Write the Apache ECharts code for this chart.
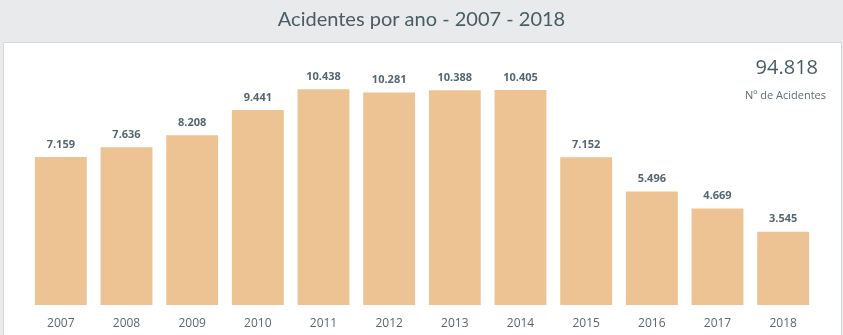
<!DOCTYPE html>
<html>
<head>
<meta charset="utf-8">
<script src="https://cdn.jsdelivr.net/npm/echarts@6/dist/echarts.min.js"></script>
<style>html,body{margin:0;padding:0;background:#e8eaeb;}#c{width:843px;height:335px;}</style>
</head>
<body>
<div id="c"></div>
<script>
const categories = ['2007','2008','2009','2010','2011','2012','2013','2014','2015','2016','2017','2018'];
const accidents = [7159, 7636, 8208, 9441, 10438, 10281, 10388, 10405, 7152, 5496, 4669, 3545];
const titleText = 'Acidentes por ano - 2007 - 2018';
const totalLabel = 'Nº de Acidentes';

function fmt(v){ return String(v).replace(/\B(?=(\d{3})+(?!\d))/g, '.'); }
const total = accidents.reduce((a,b)=>a+b,0);

const chart = echarts.init(document.getElementById('c'));
chart.setOption({
  backgroundColor: '#e8eaeb',
  animation: false,
  graphic: [
    { type: 'rect', left: 3, top: 42, z: -10, shape: { width: 838, height: 300 },
      style: { fill: '#ffffff', stroke: '#d6d8da', lineWidth: 1 } },
    { type: 'text', left: 'center', top: 10, style: { text: titleText, fill: '#4a5b64',
      font: '400 20px Lato, sans-serif' } },
    { type: 'text', right: 25, top: 58, style: { text: fmt(total), fill: '#4a5b64',
      font: '500 20px "Open Sans", sans-serif', align: 'right' } },
    { type: 'text', right: 17, top: 90, style: { text: totalLabel, fill: '#5d6d76',
      font: '400 11px "Open Sans", sans-serif', align: 'right' } }
  ],
  grid: { left: 28, right: 27, top: 57, bottom: 30, containLabel: false },
  xAxis: {
    type: 'category', data: categories,
    axisLine: { show: false }, axisTick: { show: false },
    axisLabel: { color: '#5b6670', fontSize: 12, margin: 13, fontFamily: '"Open Sans", sans-serif' }
  },
  yAxis: { type: 'value', min: 0, max: 12000, show: false, splitLine: { show: false } },
  series: [{
    type: 'bar', data: accidents, barCategoryGap: '21%',
    itemStyle: { color: '#edc394' },
    label: { show: true, position: 'top', distance: 7, color: '#566670', fontSize: 11,
      fontWeight: 'bold', fontFamily: '"Open Sans", sans-serif', formatter: p => fmt(p.value) }
  }]
});
</script>
</body>
</html>
